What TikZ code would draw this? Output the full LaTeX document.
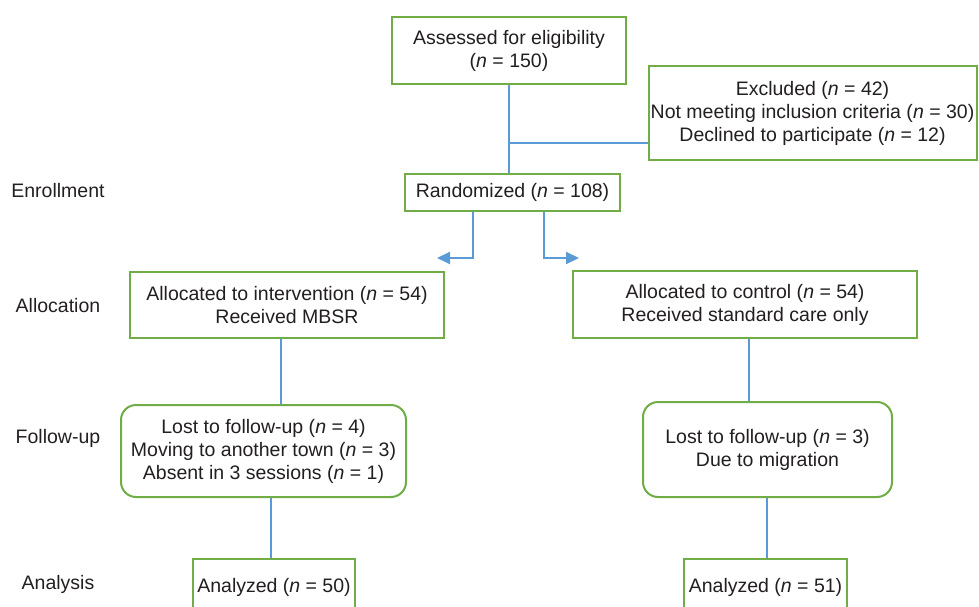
\documentclass[tikz,border=0pt]{standalone}
\usepackage{fontspec}
\setmainfont{Liberation Sans}
\usetikzlibrary{arrows.meta,calc}
\definecolor{boxgreen}{HTML}{70AD47}
\definecolor{lineblue}{HTML}{5B9BD5}
\definecolor{txt}{HTML}{231F20}
\begin{document}
\begin{tikzpicture}[x=1pt,y=-1pt,
  font=\fontsize{19.5}{23}\selectfont, text=txt,
  box/.style={draw=boxgreen, line width=2pt, fill=white, align=center, inner sep=0pt},
  rbox/.style={box, rounded corners=15pt},
  link/.style={color=lineblue, line width=1.1pt},
  arr/.style={color=lineblue, line width=2pt, -{Triangle[length=13pt,width=12pt]}},
  stage/.style={align=center, inner sep=0pt}]
\useasboundingbox (0,0) rectangle (979,607);
% stage labels
\node[stage] (s1) at (58,191) {Enrollment};
\node[stage] (s2) at (58,306) {Allocation};
\node[stage] (s3) at (58,438) {Follow-up};
\node[stage] (s4) at (58,584) {Analysis};
% boxes
\node[box, minimum width=234pt, minimum height=67pt] (assess) at (509,50.5)
  {Assessed for eligibility\\(\textit{n} = 150)};
\node[box, minimum width=328pt, minimum height=94pt] (excl) at (812.5,113)
  {Excluded (\textit{n} = 42)\\Not meeting inclusion criteria (\textit{n} = 30)\\Declined to participate (\textit{n} = 12)};
\node[box, minimum width=215pt, minimum height=37pt] (rand) at (512.5,192.5)
  {Randomized (\textit{n} = 108)};
\node[box, minimum width=314pt, minimum height=66pt] (int) at (287,305)
  {Allocated to intervention (\textit{n} = 54)\\Received MBSR};
\node[box, minimum width=344pt, minimum height=67pt] (ctrl) at (745,304.5)
  {Allocated to control (\textit{n} = 54)\\Received standard care only};
\node[rbox, minimum width=285pt, minimum height=92pt] (fu1) at (263.5,451)
  {Lost to follow-up (\textit{n} = 4)\\Moving to another town (\textit{n} = 3)\\Absent in 3 sessions (\textit{n} = 1)};
\node[rbox, minimum width=249pt, minimum height=95pt] (fu2) at (767.5,449.5)
  {Lost to follow-up (\textit{n} = 3)\\Due to migration};
\node[box, anchor=north, minimum width=162pt, text height=28pt, text depth=24pt, inner ysep=5pt] (an1) at (274,558)
  {Analyzed (\textit{n} = 50)};
\node[box, anchor=north, minimum width=163pt, text height=28pt, text depth=24pt, inner ysep=5pt] (an2) at (765.5,558)
  {Analyzed (\textit{n} = 51)};
% connectors
\coordinate (xa) at (509,0);
\coordinate (ex) at (509,143);
\draw[link] (assess.south -| xa) -- (rand.north -| xa);
\draw[link] (ex) -- (ex -| excl.west);
\coordinate (la) at (473,258);
\coordinate (lt) at (437,258);
\coordinate (ra) at (544,258);
\coordinate (rt) at (579,258);
\draw[arr] (rand.south -| la) -- (la) -- (lt);
\draw[arr] (rand.south -| ra) -- (ra) -- (rt);
\coordinate (x1) at (281,0);
\coordinate (x2) at (271,0);
\coordinate (x3) at (749,0);
\coordinate (x4) at (767,0);
\draw[link] (int.south -| x1) -- (fu1.north -| x1);
\draw[link] (fu1.south -| x2) -- (an1.north -| x2);
\draw[link] (ctrl.south -| x3) -- (fu2.north -| x3);
\draw[link] (fu2.south -| x4) -- (an2.north -| x4);
\end{tikzpicture}
\end{document}
